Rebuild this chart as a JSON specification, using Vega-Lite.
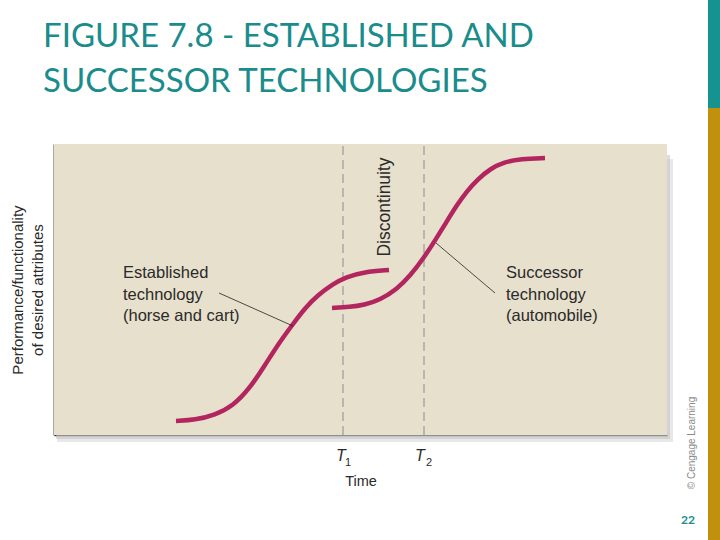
{
  "$schema": "https://vega.github.io/schema/vega-lite/v6.json",
  "width": 613,
  "height": 291,
  "autosize": "none",
  "padding": {"left": 54, "top": 144, "right": 53, "bottom": 105},
  "background": "white",
  "config": {"view": {"stroke": null}},
  "datasets": {
    "heading": [{"x": -11, "y": 388, "text": "FIGURE 7.8 - ESTABLISHED AND\nSUCCESSOR TECHNOLOGIES"}],
    "shadow": [
      {"x": 3, "x2": 619, "y": -7, "y2": 276, "o": 0.35},
      {"x": 2, "x2": 616, "y": -4, "y2": 280, "o": 0.5}
    ],
    "plot": [{"x": 0, "x2": 613, "y": 0, "y2": 291}],
    "dashes": [{"x": 289, "y": 0, "y2": 291}, {"x": 370, "y": 0, "y2": 291}],
    "curves": [
      {"series": "Established", "i": 1, "x": 122, "y": 14},
      {"series": "Established", "i": 2, "x": 141, "y": 15},
      {"series": "Established", "i": 3, "x": 161, "y": 20},
      {"series": "Established", "i": 4, "x": 179, "y": 29},
      {"series": "Established", "i": 5, "x": 196, "y": 47},
      {"series": "Established", "i": 6, "x": 211, "y": 70},
      {"series": "Established", "i": 7, "x": 225, "y": 92},
      {"series": "Established", "i": 8, "x": 239, "y": 111},
      {"series": "Established", "i": 9, "x": 251, "y": 127},
      {"series": "Established", "i": 10, "x": 264, "y": 140},
      {"series": "Established", "i": 11, "x": 279, "y": 151},
      {"series": "Established", "i": 12, "x": 292, "y": 158},
      {"series": "Established", "i": 13, "x": 310, "y": 163},
      {"series": "Established", "i": 14, "x": 335, "y": 165},
      {"series": "Successor", "i": 1, "x": 278, "y": 127},
      {"series": "Successor", "i": 2, "x": 296, "y": 128},
      {"series": "Successor", "i": 3, "x": 310, "y": 130},
      {"series": "Successor", "i": 4, "x": 326, "y": 135},
      {"series": "Successor", "i": 5, "x": 343, "y": 146},
      {"series": "Successor", "i": 6, "x": 356, "y": 159},
      {"series": "Successor", "i": 7, "x": 369, "y": 176},
      {"series": "Successor", "i": 8, "x": 382, "y": 196},
      {"series": "Successor", "i": 9, "x": 393, "y": 214},
      {"series": "Successor", "i": 10, "x": 403, "y": 230},
      {"series": "Successor", "i": 11, "x": 413, "y": 244},
      {"series": "Successor", "i": 12, "x": 424, "y": 256},
      {"series": "Successor", "i": 13, "x": 436, "y": 266},
      {"series": "Successor", "i": 14, "x": 450, "y": 273},
      {"series": "Successor", "i": 15, "x": 467, "y": 276},
      {"series": "Successor", "i": 16, "x": 491, "y": 277}
    ],
    "leaders": [
      {"x": 165, "y": 142, "x2": 239, "y2": 109},
      {"x": 382, "y": 192, "x2": 441, "y2": 142}
    ],
    "notes": [
      {"x": 69, "y": 170, "text": "Established\ntechnology\n(horse and cart)"},
      {"x": 452, "y": 170, "text": "Successor\ntechnology\n(automobile)"}
    ],
    "disc": [{"x": 331, "y": 228, "text": "Discontinuity"}],
    "tmain": [{"x": 287, "y": -21, "text": "T"}, {"x": 366, "y": -21, "text": "T"}],
    "tsub": [{"x": 294, "y": -28, "text": "1"}, {"x": 375, "y": -28, "text": "2"}],
    "copy": [{"x": 638, "y": -8, "text": "© Cengage Learning"}],
    "page": [{"x": 634, "y": -85, "text": "22"}],
    "bars": [
      {"x": 654, "x2": 666, "y": 327, "y2": 435, "c": "teal"},
      {"x": 654, "x2": 666, "y": -105, "y2": 327, "c": "gold"}
    ]
  },
  "encoding": {
    "x": {
      "field": "x",
      "type": "quantitative",
      "scale": {"domain": [0, 613], "nice": false, "zero": false},
      "axis": {
        "title": "Time",
        "labels": false,
        "ticks": false,
        "grid": false,
        "domainColor": "#333333",
        "domainWidth": 1.5,
        "titleFont": "Liberation Sans",
        "titleFontSize": 14.5,
        "titleFontWeight": "normal",
        "titleColor": "#2a2a2a",
        "titlePadding": 39
      }
    },
    "y": {
      "field": "y",
      "type": "quantitative",
      "scale": {"domain": [0, 291], "nice": false, "zero": false},
      "axis": {
        "title": ["Performance/functionality", "of desired attributes"],
        "labels": false,
        "ticks": false,
        "grid": false,
        "domainColor": "#555555",
        "domainWidth": 2,
        "titleFont": "Liberation Sans",
        "titleFontSize": 15,
        "titleFontWeight": "normal",
        "titleColor": "#2a2a2a",
        "titleLineHeight": 20,
        "titlePadding": 9
      }
    }
  },
  "layer": [
    {
      "data": {"name": "shadow"},
      "mark": {"type": "rect", "color": "#bdbdbd"},
      "encoding": {
        "x2": {"field": "x2"},
        "y2": {"field": "y2"},
        "opacity": {"field": "o", "type": "quantitative", "scale": null}
      }
    },
    {
      "data": {"name": "plot"},
      "mark": {"type": "rect", "color": "#e7e0cc"},
      "encoding": {"x2": {"field": "x2"}, "y2": {"field": "y2"}}
    },
    {
      "data": {"name": "dashes"},
      "mark": {"type": "rule", "color": "#a8a8a8", "strokeWidth": 1.5, "strokeDash": [9, 5]},
      "encoding": {"y2": {"field": "y2"}}
    },
    {
      "data": {"name": "curves"},
      "mark": {"type": "line", "interpolate": "basis", "color": "#b2255f", "strokeWidth": 4.5, "strokeCap": "butt"},
      "encoding": {
        "detail": {"field": "series", "type": "nominal"},
        "order": {"field": "i", "type": "quantitative"}
      }
    },
    {
      "data": {"name": "leaders"},
      "mark": {"type": "rule", "color": "#222222", "strokeWidth": 0.8},
      "encoding": {"x2": {"field": "x2"}, "y2": {"field": "y2"}}
    },
    {
      "data": {"name": "notes"},
      "mark": {"type": "text", "align": "left", "baseline": "top", "lineBreak": "\n", "lineHeight": 21.5, "font": "Liberation Sans", "fontSize": 16.5, "color": "#2a2a2a"},
      "encoding": {"text": {"field": "text"}}
    },
    {
      "data": {"name": "disc"},
      "mark": {"type": "text", "angle": 270, "align": "center", "baseline": "middle", "font": "Liberation Sans", "fontSize": 17.5, "color": "#2a2a2a"},
      "encoding": {"text": {"field": "text"}}
    },
    {
      "data": {"name": "tmain"},
      "mark": {"type": "text", "align": "center", "baseline": "middle", "font": "Liberation Sans", "fontStyle": "italic", "fontSize": 16, "color": "#2a2a2a"},
      "encoding": {"text": {"field": "text"}}
    },
    {
      "data": {"name": "tsub"},
      "mark": {"type": "text", "align": "center", "baseline": "middle", "font": "Liberation Sans", "fontSize": 11, "color": "#2a2a2a"},
      "encoding": {"text": {"field": "text"}}
    },
    {
      "data": {"name": "copy"},
      "mark": {"type": "text", "angle": 270, "align": "center", "baseline": "middle", "font": "Liberation Sans", "fontSize": 10, "color": "#8a8a8a"},
      "encoding": {"text": {"field": "text"}}
    },
    {
      "data": {"name": "page"},
      "mark": {"type": "text", "align": "center", "baseline": "middle", "font": "Lato", "fontWeight": "bold", "fontSize": 12, "color": "#1a8c8c"},
      "encoding": {"text": {"field": "text"}}
    },
    {
      "data": {"name": "heading"},
      "mark": {"type": "text", "align": "left", "baseline": "alphabetic", "lineBreak": "\n", "lineHeight": 44.5, "font": "Lato", "fontSize": 33, "color": "#1a8c8c"},
      "encoding": {"text": {"field": "text"}}
    },
    {
      "data": {"name": "bars"},
      "mark": {"type": "rect"},
      "encoding": {
        "x2": {"field": "x2"},
        "y2": {"field": "y2"},
        "color": {"field": "c", "type": "nominal", "scale": {"domain": ["teal", "gold"], "range": ["#169291", "#c1900d"]}, "legend": null}
      }
    }
  ]
}
